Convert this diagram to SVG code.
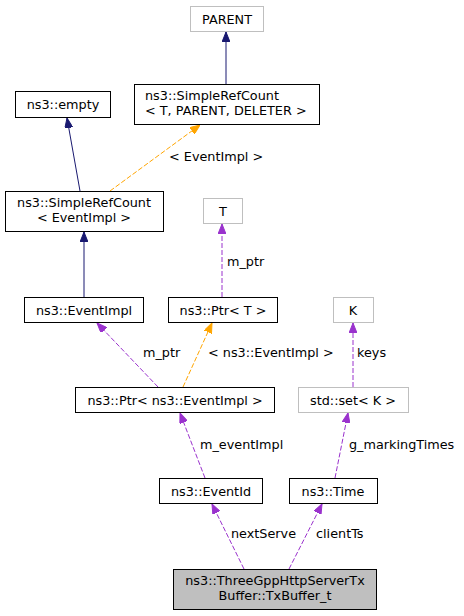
<svg xmlns="http://www.w3.org/2000/svg" width="464" height="616" viewBox="0 0 464 616">
<defs>
<style>
text{font-family:"DejaVu Sans","Liberation Sans",sans-serif;font-size:12.8px;fill:#000}
.n{fill:#fff;stroke:#000;stroke-width:1}
.g{fill:#fff;stroke:#bfbfbf;stroke-width:1}
.h{fill:#bfbfbf;stroke:#000;stroke-width:1}
.e{fill:none;stroke-width:1}
.nv{stroke:#191970}
.pu{stroke:#9a32cd;stroke-dasharray:5,2}
.or{stroke:#ffa500;stroke-dasharray:5,2}
.m{text-anchor:middle}
</style>
<marker id="an" markerWidth="10" markerHeight="8" refX="10" refY="4" orient="auto" markerUnits="userSpaceOnUse"><path d="M0,0 L10,4 L0,8 z" fill="#191970" stroke="#191970"/></marker>
<marker id="ap" markerWidth="10" markerHeight="8" refX="10" refY="4" orient="auto" markerUnits="userSpaceOnUse"><path d="M0,0 L10,4 L0,8 z" fill="#9a32cd" stroke="#9a32cd"/></marker>
<marker id="ao" markerWidth="10" markerHeight="8" refX="10" refY="4" orient="auto" markerUnits="userSpaceOnUse"><path d="M0,0 L10,4 L0,8 z" fill="#ffa500" stroke="#ffa500"/></marker>
</defs>
<g id="edges">
<path class="e nv" d="M226,84 L226,32" marker-end="url(#an)"/>
<path class="e nv" d="M80,191 L67,118" marker-end="url(#an)"/>
<path class="e or" d="M110,191 L200,125" marker-end="url(#ao)"/>
<text x="169" y="161">&lt; EventImpl &gt;</text>
<path class="e nv" d="M84,297 L84,232" marker-end="url(#an)"/>
<path class="e pu" d="M222,297 L222,224" marker-end="url(#ap)"/>
<text x="227" y="266">m_ptr</text>
<path class="e pu" d="M158,387 L97,323" marker-end="url(#ap)"/>
<text x="143" y="357">m_ptr</text>
<path class="e or" d="M183,387 L212,323" marker-end="url(#ao)"/>
<text x="208" y="357">&lt; ns3::EventImpl &gt;</text>
<path class="e pu" d="M353,387 L353,323" marker-end="url(#ap)"/>
<text x="357" y="357">keys</text>
<path class="e pu" d="M205,478 L180,413" marker-end="url(#ap)"/>
<text x="200" y="449">m_eventImpl</text>
<path class="e pu" d="M335,478 L348,413" marker-end="url(#ap)"/>
<text x="349" y="449">g_markingTimes</text>
<path class="e pu" d="M244,569 L212,504" marker-end="url(#ap)"/>
<text x="231" y="538">nextServe</text>
<path class="e pu" d="M289,569 L322,504" marker-end="url(#ap)"/>
<text x="316" y="538">clientTs</text>
</g>
<g id="parent"><rect class="g" x="190.5" y="6.5" width="73" height="25"/><text class="m" x="227" y="23.5">PARENT</text></g>
<g id="srcT"><rect class="n" x="134.5" y="84.5" width="185" height="40"/><text x="145" y="100">ns3::SimpleRefCount</text><text x="145" y="115">&lt; T, PARENT, DELETER &gt;</text></g>
<g id="empty"><rect class="n" x="15.5" y="91.5" width="95" height="26"/><text class="m" x="63" y="108.5">ns3::empty</text></g>
<g id="srcE"><rect class="n" x="5.5" y="191.5" width="158" height="40"/><text class="m" x="84" y="207">ns3::SimpleRefCount</text><text class="m" x="84" y="222">&lt; EventImpl &gt;</text></g>
<g id="T"><rect class="g" x="203.5" y="198.5" width="39" height="25"/><text class="m" x="223" y="215.5">T</text></g>
<g id="eventimpl"><rect class="n" x="24.5" y="297.5" width="119" height="25"/><text class="m" x="84" y="314.5">ns3::EventImpl</text></g>
<g id="ptrT"><rect class="n" x="168.5" y="297.5" width="109" height="25"/><text class="m" x="223" y="314.5">ns3::Ptr&lt; T &gt;</text></g>
<g id="K"><rect class="g" x="333.5" y="297.5" width="40" height="25"/><text class="m" x="353" y="314.5">K</text></g>
<g id="ptrE"><rect class="n" x="75.5" y="387.5" width="199" height="25"/><text class="m" x="175" y="404.5">ns3::Ptr&lt; ns3::EventImpl &gt;</text></g>
<g id="set"><rect class="g" x="298.5" y="387.5" width="110" height="25"/><text class="m" x="353" y="404.5">std::set&lt; K &gt;</text></g>
<g id="eventid"><rect class="n" x="159.5" y="478.5" width="103" height="25"/><text class="m" x="211" y="495.5">ns3::EventId</text></g>
<g id="time"><rect class="n" x="289.5" y="478.5" width="88" height="25"/><text class="m" x="333" y="495.5">ns3::Time</text></g>
<g id="txbuffer"><rect class="h" x="173.5" y="569.5" width="203" height="40"/><text class="m" x="275" y="585">ns3::ThreeGppHttpServerTx</text><text class="m" x="275" y="600">Buffer::TxBuffer_t</text></g>
</svg>
